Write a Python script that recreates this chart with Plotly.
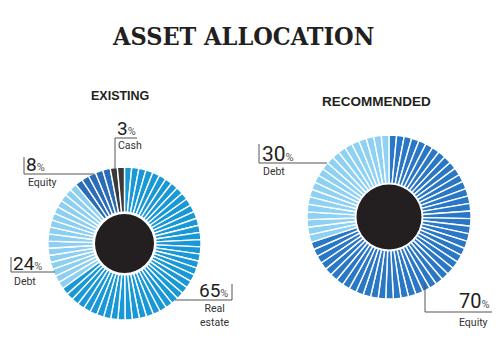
import plotly.graph_objects as go

W, H = 500, 353

# ---- data ----
existing_labels = ["Real estate", "Debt", "Equity", "Cash"]
existing_values = [65, 24, 8, 3]
existing_segments = [43, 16, 5, 2]
existing_colors = ["#1898d6", "#8ccff1", "#2a6db6", "#3a3a3a"]

recommended_labels = ["Equity", "Debt"]
recommended_values = [70, 30]
recommended_segments = [47, 20]
recommended_colors = ["#2a78c5", "#8ed1f3"]


def px_dom(cx, cy, r):
    return dict(x=[(cx - r) / W, (cx + r) / W], y=[1 - (cy + r) / H, 1 - (cy - r) / H])


def expand(labels, values, segs, colors):
    L, V, C = [], [], []
    for lab, v, n, c in zip(labels, values, segs, colors):
        for i in range(n):
            L.append(f"{lab} {i}")
            V.append(v / n)
            C.append(c)
    return L, V, C


fig = go.Figure()

for (labels, values, segs, colors, cx, cy, r, rb) in [
    (existing_labels, existing_values, existing_segments, existing_colors, 124.5, 243.5, 76.5, 29.5),
    (recommended_labels, recommended_values, recommended_segments, recommended_colors, 389, 217, 82, 32.5),
]:
    L, V, C = expand(labels, values, segs, colors)
    fig.add_trace(go.Pie(
        labels=L, values=V, sort=False, direction="clockwise", rotation=0,
        hole=0.41, textinfo="none", hoverinfo="skip", showlegend=False,
        marker=dict(colors=C, line=dict(color="white", width=1.4)),
        domain=px_dom(cx, cy, r),
    ))
    fig.add_trace(go.Pie(
        labels=["center"], values=[1], textinfo="none", hoverinfo="skip", showlegend=False,
        marker=dict(colors=["#231f20"], line=dict(width=0)),
        domain=px_dom(cx, cy, rb),
    ))

annotations = []
shapes = []


def ann(x, y, text, size, color="#222", xanchor="left", yanchor="middle", family="Roboto", bold=False):
    annotations.append(dict(
        x=x / W, y=1 - y / H, xref="paper", yref="paper", text=text, showarrow=False,
        xanchor=xanchor, yanchor=yanchor, borderpad=0,
        font=dict(size=size, color=color, family=family, weight="bold" if bold else "normal"),
    ))


def line(x0, y0, x1, y1):
    shapes.append(dict(type="line", xref="paper", yref="paper",
                       x0=x0 / W, y0=1 - y0 / H, x1=x1 / W, y1=1 - y1 / H,
                       line=dict(color="#555555", width=1)))


def num(v):
    return f"{v}<span style='font-size:11px;color:#555'>%</span>"


# title
ann(243, 36, "ASSET ALLOCATION", 25, color="#231f20", xanchor="center",
    family="DejaVu Serif Condensed, DejaVu Serif", bold=True)
ann(120, 96, "EXISTING", 12.5, color="#231f20", xanchor="center", family="Liberation Sans", bold=True)
ann(376, 101, "RECOMMENDED", 13.5, color="#231f20", xanchor="center", family="Liberation Sans", bold=True)

# Existing labels
ev = dict(zip(existing_labels, existing_values))
# Cash
ann(116, 128.5, num(ev["Cash"]), 19)
ann(117, 145, "Cash", 10.5, color="#333")
line(115, 138, 137, 138)
line(115, 138, 115, 168)
# Equity
ann(25, 164.5, num(ev["Equity"]), 19)
ann(27, 182, "Equity", 10.5, color="#333")
line(24, 157, 24, 174)
line(24, 174, 94, 174)
# Debt
ann(12, 263, num(ev["Debt"]), 19)
ann(13, 281, "Debt", 10.5, color="#333")
line(11, 257, 11, 272)
line(11, 272, 55, 272)
# Real estate
ann(198, 290.5, num(ev["Real estate"]), 19)
ann(199, 315.5, "Real<br>estate", 10.5, color="#333")
line(232, 284, 232, 300)
line(175, 300, 232, 300)

# Recommended labels
rv = dict(zip(recommended_labels, recommended_values))
ann(261, 154, num(rv["Debt"]), 21)
ann(262, 171, "Debt", 10.5, color="#333")
line(259, 144, 259, 163)
line(259, 163, 327, 163)
ann(491, 301, num(rv["Equity"]), 20, xanchor="right")
ann(489, 322, "Equity", 10.5, color="#333", xanchor="right")
line(425, 283, 425, 312)
line(425, 312, 492, 312)

fig.update_layout(
    width=W, height=H, margin=dict(l=0, r=0, t=0, b=0),
    paper_bgcolor="white", plot_bgcolor="white",
    annotations=annotations, shapes=shapes,
)

fig.write_html("out.html")
